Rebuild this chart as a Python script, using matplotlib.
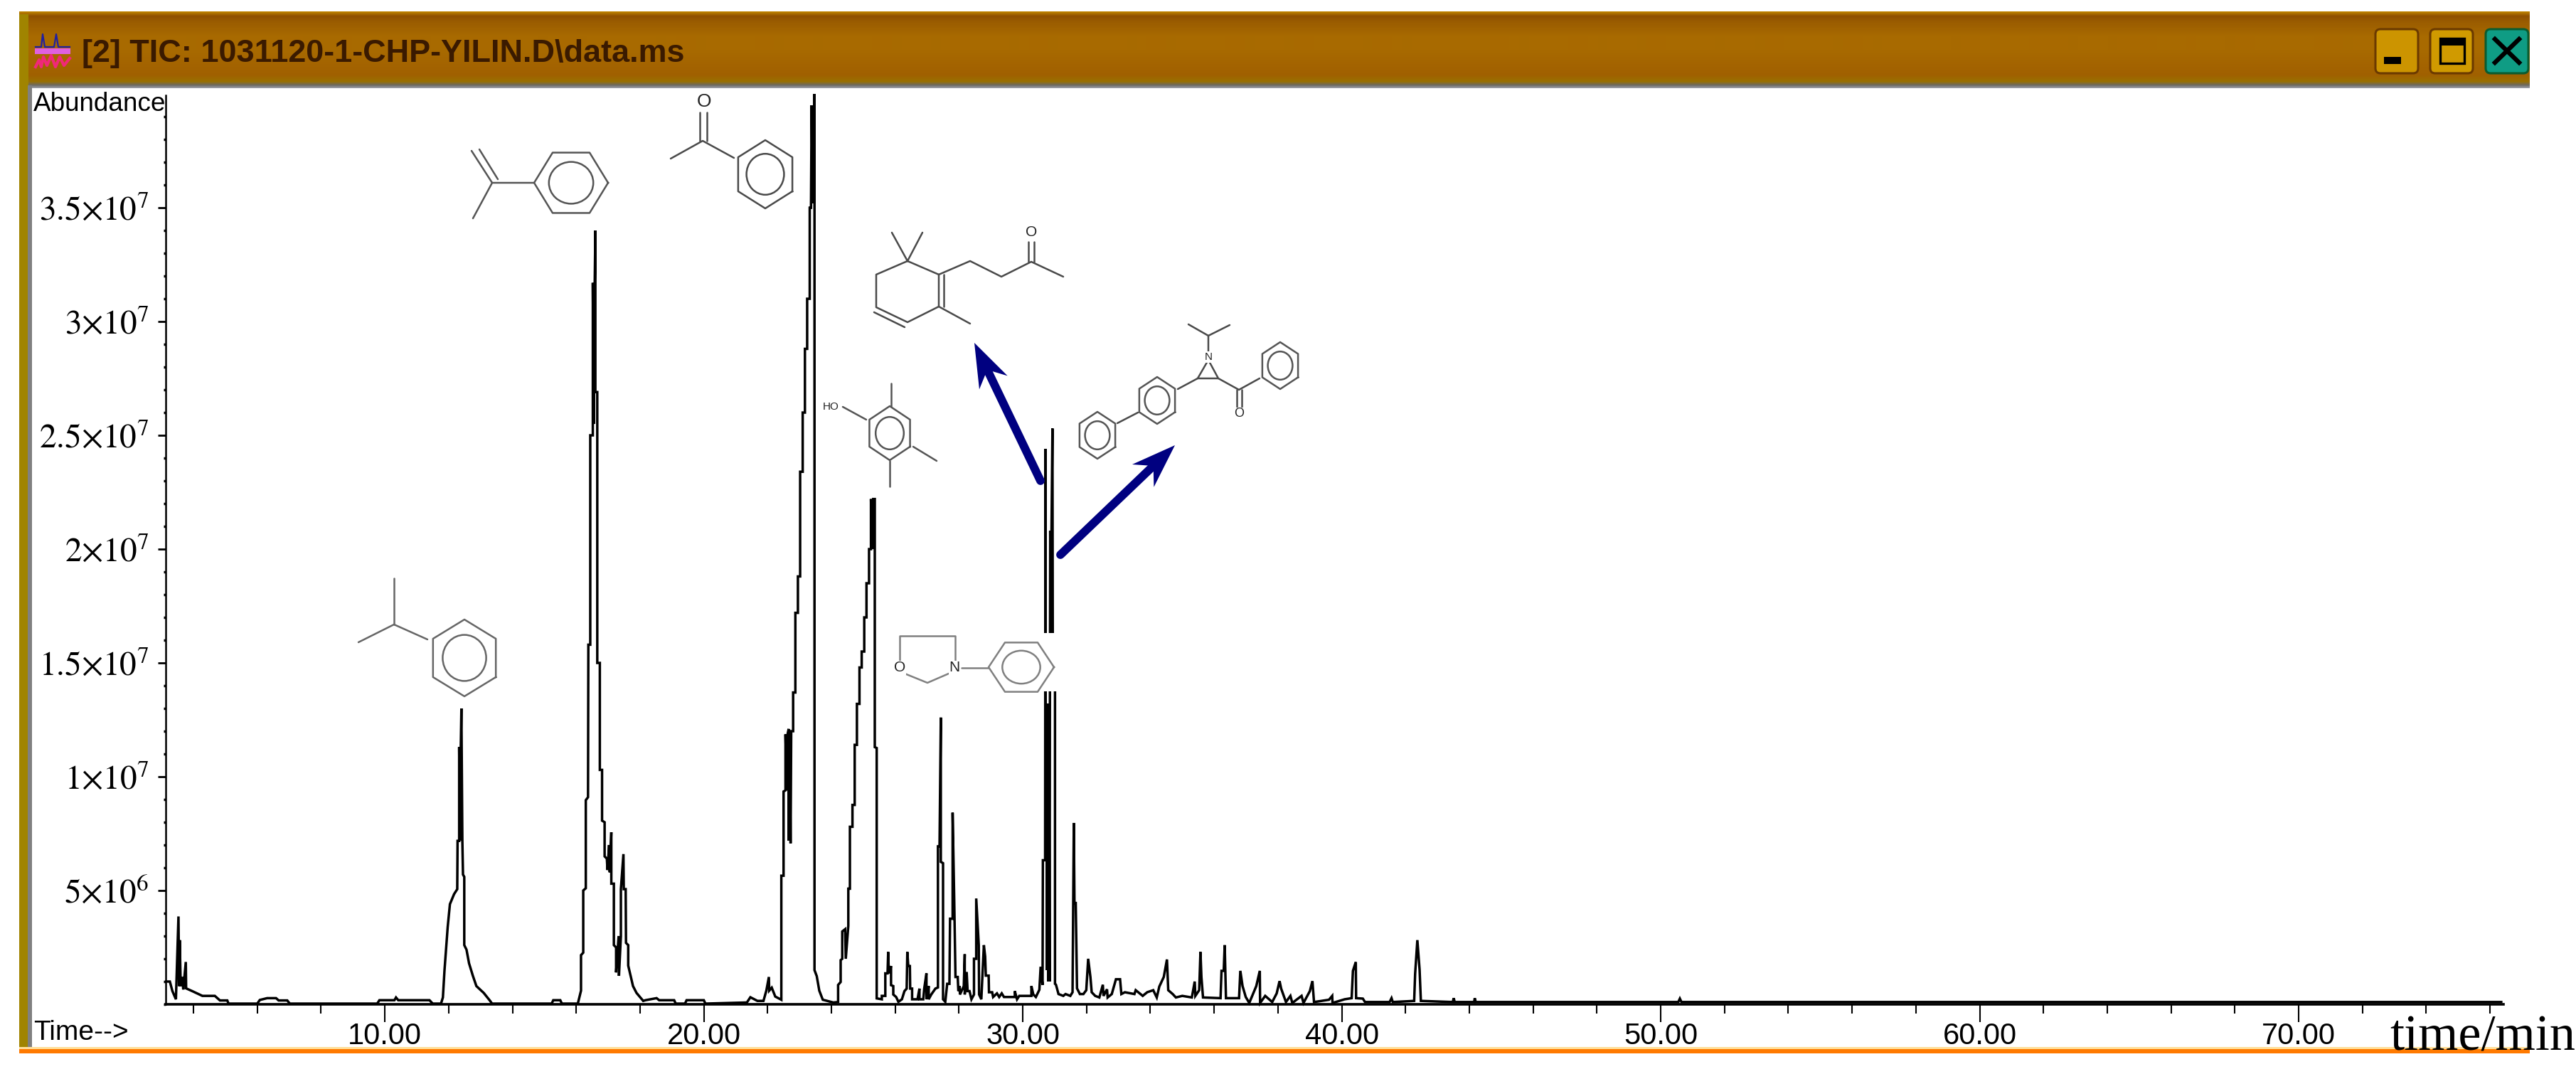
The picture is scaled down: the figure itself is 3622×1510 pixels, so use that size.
import numpy as np
import matplotlib
matplotlib.use('Agg')
import matplotlib.pyplot as plt
from matplotlib.patches import Rectangle, Ellipse, Polygon, FancyBboxPatch
from matplotlib.ticker import MultipleLocator, FixedLocator, NullFormatter

W, H = 3622, 1510

# retention time (min), abundance (in 1e6)
scan_front = [(3.15, 1.0), (3.26, 1.0), (3.34, .58), (3.45, .22), (3.53, 3.86), (3.55, .8), (3.57, 2.82), (3.6, .8),
              (3.65, 1.2), (3.68, .65), (3.76, 1.86), (3.77, .7), (3.96, .58), (4.28, .37), (4.67, .37), (4.83, .17),
              (5.06, .17), (5.1, .03), (6.0, .03), (6.08, .19), (6.31, .27), (6.59, .27), (6.67, .17), (6.94, .17),
              (7.02, .03), (9.76, .03), (9.83, .18), (10.3, .18), (10.35, .3), (10.42, .18), (11.4, .18), (11.5, .03),
              (11.76, .03)]
scan_cumene = [(11.82, .3), (11.87, 1.49), (11.97, 3.39), (12.04, 4.4), (12.17, 4.84), (12.27, 5.06), (12.28, 7.18),
               (12.33, 7.18), (12.33, 11.3), (12.36, 7.2), (12.38, 11.3), (12.40, 13.0), (12.43, 7.2), (12.45, 5.7),
               (12.49, 5.6), (12.49, 2.6), (12.56, 2.4), (12.64, 1.8), (12.76, 1.25), (12.87, .8), (13.1, .5),
               (13.3, .15), (13.36, .03), (15.23, .03), (15.28, .18), (15.5, .18), (15.55, .03), (16.05, .03)]
scan_ams = [(16.15, .6), (16.15, 2.16), (16.22, 2.27), (16.22, 5.0), (16.3, 5.1), (16.3, 8.97), (16.37, 9.1),
            (16.38, 15.8), (16.44, 15.8), (16.44, 25.0), (16.52, 25.0), (16.52, 31.7), (16.55, 25.5), (16.58, 31.7),
            (16.6, 34.0), (16.6, 26.9), (16.66, 26.9), (16.66, 15.0), (16.74, 15.0), (16.74, 10.3), (16.81, 10.3),
            (16.81, 8.07), (16.89, 8.0), (16.89, 6.5), (16.96, 6.4), (16.98, 5.9), (17.03, 7.0), (17.05, 5.8),
            (17.1, 7.56), (17.1, 5.3), (17.18, 5.3), (17.18, 2.6), (17.25, 2.5), (17.25, 1.4), (17.33, 3.0),
            (17.34, 1.25), (17.4, 3.0), (17.4, 5.06), (17.48, 6.6), (17.49, 5.06), (17.55, 5.06), (17.56, 2.7),
            (17.63, 2.6), (17.63, 1.7), (17.78, .8), (17.89, .5), (18.1, .15), (18.17, .18), (18.52, .27), (18.6, .18),
            (19.07, .18), (19.12, .03), (19.41, .03), (19.46, .18), (20.0, .18), (20.05, .03), (21.35, .08)]
scan_acp = [(21.46, .31), (21.68, .15), (21.87, .15), (21.96, .6), (22.04, 1.2), (22.05, .6), (22.13, .73), (22.24, .34),
            (22.43, .2), (22.43, 5.65), (22.5, 5.65), (22.5, 9.35), (22.56, 9.4), (22.56, 11.86), (22.6, 9.4),
            (22.63, 11.9), (22.66, 12.1), (22.66, 7.2), (22.69, 12.0), (22.72, 7.07), (22.74, 12.0), (22.8, 12.0),
            (22.8, 13.7), (22.87, 13.7), (22.87, 17.2), (22.95, 17.2), (22.95, 18.8), (23.02, 18.8), (23.02, 23.4),
            (23.1, 23.4), (23.1, 26.0), (23.17, 26.0), (23.17, 28.8), (23.24, 28.8), (23.24, 31.0), (23.32, 31.0),
            (23.32, 35.0), (23.36, 35.0), (23.38, 39.5), (23.41, 35.2), (23.43, 39.5), (23.45, 35.2), (23.47, 40.0),
            (23.47, 1.5), (23.54, 1.24), (23.62, .6), (23.73, .2), (24.06, .08)]
scan_phenol = [(24.21, .1), (24.21, .85), (24.29, .98), (24.29, 1.94), (24.34, 2.0), (24.34, 3.2), (24.43, 3.3),
               (24.45, 2.0), (24.53, 3.45), (24.53, 5.08), (24.58, 5.08), (24.58, 7.8), (24.66, 7.8), (24.66, 8.76),
               (24.73, 8.76), (24.73, 11.4), (24.8, 11.4), (24.8, 13.2), (24.88, 13.2), (24.88, 14.8), (24.95, 14.8),
               (24.95, 15.5), (25.03, 15.5), (25.03, 17.0), (25.1, 17.0), (25.1, 18.5), (25.18, 18.5), (25.18, 20.0),
               (25.24, 20.0), (25.24, 22.2), (25.28, 20.0), (25.31, 22.2), (25.36, 22.2), (25.36, 11.3), (25.42, 11.26),
               (25.42, .26)]
scan_mid = [(25.58, .22), (25.58, .37), (25.69, .37), (25.69, 1.36), (25.76, 1.36), (25.78, 2.3), (25.8, 1.36),
            (25.87, 1.68), (25.87, .84), (25.94, .8), (25.94, .43), (26.03, .32), (26.1, .11), (26.21, .22), (26.29, .58),
            (26.36, .69), (26.38, 2.3), (26.41, 1.68), (26.46, 1.68), (26.47, .69), (26.53, .69), (26.53, .22), (26.7, .22),
            (26.76, .69), (26.76, .22), (26.88, .22), (26.91, .69), (26.98, 1.36), (26.98, .22), (27.05, .8), (27.05, .22),
            (27.13, .43), (27.26, .69), (27.34, .74), (27.34, 6.94), (27.39, 6.94), (27.43, 12.6), (27.43, 6.26),
            (27.5, 6.2), (27.5, .22), (27.57, .11), (27.63, .9), (27.7, .9), (27.72, 3.76), (27.8, 3.76), (27.8, 8.42),
            (27.85, 4.6), (27.89, 1.2), (27.96, 1.2), (27.98, .58), (28.02, .8), (28.03, .43), (28.15, .8), (28.18, 2.2),
            (28.18, .43), (28.24, 1.42), (28.27, .58), (28.33, .58), (28.39, .22), (28.47, .43), (28.47, 2.0), (28.54, 2.0),
            (28.54, 4.65), (28.62, 2.6), (28.63, .43), (28.7, .22), (28.78, 2.6), (28.82, 2.1), (28.84, 1.26), (28.93, 1.26),
            (28.94, .53), (29.04, .53), (29.07, .32), (29.19, .48), (29.26, .32), (29.34, .48), (29.41, .32), (29.75, .32),
            (29.75, .58), (29.82, .22), (29.89, .37), (30.27, .37), (30.27, .8), (30.33, .43), (30.41, .32), (30.52, .64)]
scan_twin = [(30.56, 1.65), (30.62, .85), (30.63, 6.33), (30.70, 6.33), (30.71, 24.4), (30.72, 6.3), (30.74, 13.2),
             (30.76, 1.5), (30.78, 13.2), (30.80, 1.0), (30.82, 13.2), (30.84, 1.0), (30.85, 13.0), (30.86, 20.8),
             (30.88, 16.0), (30.90, 20.8), (30.93, 25.3), (30.94, 16.0), (31.0, 15.0), (31.01, 13.8), (31.01, .9)]
scan_tail = [(31.04, .86), (31.12, .45), (31.27, .37), (31.34, .45), (31.49, .37), (31.56, .53), (31.6, 7.97),
             (31.62, 4.45), (31.66, 4.45), (31.7, .7), (31.79, .45), (31.9, .45), (31.99, .62), (32.05, 2.0), (32.12, 1.2),
             (32.16, .53), (32.27, .37), (32.4, .3), (32.51, .86), (32.53, .37), (32.64, .66), (32.66, .3), (32.79, .45),
             (32.92, 1.1), (33.05, 1.1), (33.09, .45), (33.2, .53), (33.5, .45), (33.54, .62), (33.76, .37), (33.9, .53),
             (34.09, .62), (34.2, .3), (34.28, .78), (34.42, 1.2), (34.52, 1.97), (34.56, .62), (34.7, .45), (34.8, .3),
             (35.0, .37), (35.3, .3), (35.39, 1.0), (35.41, .37), (35.53, .62), (35.57, 2.3), (35.6, 1.2), (35.65, .3),
             (36.2, .27), (36.23, 1.47), (36.3, 1.47), (36.33, 2.6), (36.37, .27), (36.78, .27), (36.82, 1.47), (36.89, .8),
             (36.99, .32), (37.1, .06), (37.32, .8), (37.43, 1.47), (37.44, .06), (37.6, .37), (37.82, .1), (37.96, .48),
             (38.05, 1.02), (38.1, .69), (38.25, .1), (38.39, .37), (38.45, .06), (38.74, .37), (38.8, .06), (39.0, .58),
             (39.08, 1.02), (39.13, .1), (39.6, .2), (39.7, .37), (39.71, .06), (40.09, .22), (40.31, .27), (40.35, 1.47),
             (40.44, 1.86), (40.45, .27), (40.66, .25), (40.73, .1), (41.5, .1), (41.56, .27), (41.6, .1), (42.27, .15),
             (42.3, 1.33), (42.37, 2.82), (42.44, 1.52), (42.48, .15), (43.48, .1), (43.51, .27), (43.54, .1), (44.15, .1),
             (44.17, .27), (44.2, .1), (50.55, .1), (50.6, .25), (50.65, .1), (76.35, .1)]

x_major = [10, 20, 30, 40, 50, 60, 70]
x_labels = ['10.00', '20.00', '30.00', '40.00', '50.00', '60.00', '70.00']
y_major = [5e6, 1e7, 1.5e7, 2e7, 2.5e7, 3e7, 3.5e7]
y_labels = [r'$5{\times}10^{6}$', r'$1{\times}10^{7}$', r'$1.5{\times}10^{7}$', r'$2{\times}10^{7}$',
            r'$2.5{\times}10^{7}$', r'$3{\times}10^{7}$', r'$3.5{\times}10^{7}$']

NARROW = ['Liberation Sans Narrow', 'Liberation Sans']
plt.rcParams['mathtext.fontset'] = 'stix'
plt.rcParams['font.family'] = ['Liberation Sans', 'DejaVu Sans']

fig = plt.figure(figsize=(W / 100, H / 100), dpi=100, facecolor='white')


def pixel_axes(z):
    a = fig.add_axes([0, 0, 1, 1], zorder=z)
    a.set_xlim(0, W)
    a.set_ylim(H, 0)
    a.axis('off')
    a.patch.set_alpha(0)
    return a


bg = pixel_axes(0)
fg = pixel_axes(2)

# window frame
bar_cols = ['#c08400', '#8f5000', '#9a5c00', '#a86a00', '#a86a00', '#a46400', '#a06000', '#9a7000', '#6e6a60', '#a4a8b4']
bar_pos = np.array([16, 22, 30, 50, 70, 90, 105, 114, 119, 124])
rows = np.arange(16, 124)
rgb = np.array([matplotlib.colors.to_rgb(c) for c in bar_cols])
grad = np.stack([np.interp(rows, bar_pos, rgb[:, i]) for i in range(3)], axis=1)[:, None, :]
bg.imshow(grad, extent=(27, 3557, 124, 16), aspect='auto', interpolation='bilinear')
bg.set_xlim(0, W)
bg.set_ylim(H, 0)
bg.add_patch(Rectangle((27, 20), 13, 1461, fc='#a08400', ec='none'))
bg.add_patch(Rectangle((39, 120), 6, 1355, fc='#808080', ec='none'))
bg.add_patch(Rectangle((27, 1472), 3530, 3, fc='#ffdf9a', ec='none'))
bg.add_patch(Rectangle((27, 1475), 3530, 6, fc='#ff7a00', ec='none'))

# title bar buttons
for x0, col, edge in [(3336, '#cc9400', '#6b3a00'), (3413, '#d09a00', '#6b3a00'), (3491, '#0f9c84', '#0b5c30')]:
    bg.add_patch(FancyBboxPatch((x0 + 4, 41), 60, 62, boxstyle='round,pad=0,rounding_size=7', fc=col, ec=edge, lw=2.2))
bg.add_patch(Rectangle((3352, 80), 24, 10, fc='black', ec='none'))
bg.add_patch(Rectangle((3431, 54), 34, 35, fc='none', ec='black', lw=2.4))
bg.add_patch(Rectangle((3430, 53), 36, 11, fc='black', ec='none'))
bg.plot([3508, 3542], [55, 88], color='black', lw=4.5)
bg.plot([3508, 3542], [88, 55], color='black', lw=4.5)

# title icon
bg.plot([50, 58, 60, 63, 66, 72, 76, 79, 82, 98], [66, 66, 48, 66, 66, 66, 66, 48, 66, 66], color='#2020a0', lw=1.6)
bg.add_patch(Rectangle((49, 68), 50, 8, fc='#e060e0', ec='none'))
bg.plot([50, 55, 58, 61, 66, 72, 78, 84, 90, 98], [94, 84, 94, 80, 92, 78, 94, 80, 92, 82], color='#f02878', lw=3)

bg.text(115, 75, '[2] TIC: 1031120-1-CHP-YILIN.D\\data.ms', fontsize=32.4, fontweight='bold', color='#3a1a00',
        family=['Liberation Sans'], ha='left', va='center')

# chromatogram
trace = scan_front + scan_cumene + scan_ams + scan_acp + scan_phenol + scan_mid + scan_twin + scan_tail
rt = np.array([p[0] for p in trace])
abundance = np.array([p[1] for p in trace]) * 1e6

ax = fig.add_axes([233 / W, (H - 1412) / H, (3520 - 233) / W, (1412 - 134) / H], zorder=1)
ax.patch.set_alpha(0)
ax.plot(rt, abundance, color='black', lw=2.5, solid_joinstyle='miter', clip_on=False)
ax.set_xlim(3.13, 76.42)
ax.set_ylim(0, 39.94e6)
for s in ['top', 'right']:
    ax.spines[s].set_visible(False)
ax.spines['left'].set_linewidth(1.8)
ax.spines['bottom'].set_linewidth(2.6)

ax.xaxis.set_major_locator(FixedLocator(x_major))
ax.xaxis.set_minor_locator(MultipleLocator(2))
ax.xaxis.set_minor_formatter(NullFormatter())
ax.set_xticklabels(x_labels, family=NARROW, fontsize=30)
ax.tick_params(axis='x', which='major', length=18, width=1.5, pad=0)
ax.tick_params(axis='x', which='minor', length=9, width=1.5)

ax.yaxis.set_major_locator(FixedLocator(y_major))
ax.yaxis.set_minor_locator(MultipleLocator(1e6))
ax.yaxis.set_minor_formatter(NullFormatter())
ax.set_yticklabels(y_labels, fontsize=34)
ax.tick_params(axis='y', which='major', length=8, width=2, pad=9)
ax.tick_params(axis='y', which='minor', length=2.5, width=2.5)

fg.text(47, 146, 'Abundance', fontsize=26.6, color='black', ha='left', va='center')
fg.text(47, 1452, 'Time-->', fontsize=28, family=NARROW, color='black', ha='left', va='center')
fg.text(3360, 1477, 'time/min', fontsize=52, family=['Liberation Serif'], color='black', ha='left', va='baseline')


# structures, pixel positions on the picture
def lines(segs, col='#4a4a4a', lw=1.8):
    for s in segs:
        fg.plot([p[0] for p in s], [p[1] for p in s], color=col, lw=lw, solid_capstyle='round')


def ring(cx, cy, rx, ry, flat, col='#4a4a4a', inner=0.6):
    ang = np.radians(np.arange(0, 361, 60) + (0 if flat else 30))
    fg.plot(cx + rx * np.cos(ang), cy + ry * np.sin(ang), color=col, lw=1.8)
    fg.add_patch(Ellipse((cx, cy), 2 * rx * inner, 2 * ry * inner, fc='none', ec=col, lw=1.8))


def atom(x, y, s, size=15):
    fg.text(x, y, s, fontsize=size, color='#222222', ha='center', va='center',
            bbox=dict(fc='white', ec='none', pad=0.5))


def arrow(tail, tip):
    tail, tip = np.array(tail, float), np.array(tip, float)
    d = (tip - tail) / np.hypot(*(tip - tail))
    n = np.array([-d[1], d[0]])
    fg.plot([tail[0], (tip - 30 * d)[0]], [tail[1], (tip - 30 * d)[1]], color='#000080', lw=8.5, solid_capstyle='round')
    fg.add_patch(Polygon([tip, tip - 62 * d + 22 * n, tip - 42 * d, tip - 62 * d - 22 * n], fc='#000080', ec='none'))


fg.add_patch(Rectangle((1255, 890), 231, 82, fc='white', ec='none'))

# isopropylbenzene
ring(653, 925, 51, 54, False, '#666666')
lines([[(601, 899), (554, 878), (504, 903)], [(554, 878), (554, 813)]], '#666666')
# alpha-methylstyrene
ring(803, 257, 52, 49, True, '#555555')
lines([[(751, 257), (692, 257), (665, 307)], [(692, 257), (663, 212)], [(700, 252), (674, 210)]], '#555555')
# acetophenone
ring(1076, 245, 44, 48, False)
lines([[(1032, 222), (988, 198), (943, 223)], [(984, 198), (984, 158)], [(994, 198), (994, 158)]])
atom(990, 143, 'O', 19)
# ketone
lines([[(1276, 367), (1320, 386), (1320, 431), (1276, 453), (1232, 432), (1232, 386), (1276, 367)],
       [(1276, 367), (1254, 327)], [(1276, 367), (1297, 327)],
       [(1327, 386), (1327, 431)], [(1229, 439), (1272, 460)],
       [(1320, 431), (1364, 455)],
       [(1320, 386), (1364, 367), (1408, 389), (1450, 368), (1495, 389)],
       [(1446, 368), (1446, 340)], [(1454, 368), (1454, 340)]])
atom(1450, 327, 'O', 15)
# trimethylphenol
ring(1251, 609, 33, 38, False, '#555555')
lines([[(1185, 572), (1218, 590)], [(1253, 539), (1253, 571)], [(1251, 648), (1251, 684)], [(1284, 628), (1317, 648)]],
      '#555555')
atom(1168, 572, 'HO', 11)
# oxazolidine
lines([[(1265, 930), (1265, 894), (1343, 894), (1343, 928)], [(1272, 947), (1304, 960), (1334, 947)], [(1352, 939), (1390, 939)]],
      '#808080')
ring(1436, 938, 46, 40, True, '#808080', 0.58)
atom(1265, 939, 'O', 15)
atom(1342, 939, 'N', 15)
# aziridine
ring(1543, 612, 29, 33, False, '#555555')
ring(1627, 563, 29, 33, False, '#555555')
ring(1800, 514, 29, 33, False, '#555555')
lines([[(1571, 595), (1600, 580)], [(1656, 547), (1684, 532), (1713, 532), (1699, 506), (1684, 532)],
       [(1699, 495), (1699, 472), (1671, 456)], [(1699, 472), (1729, 457)],
       [(1713, 532), (1742, 548), (1771, 532)], [(1739, 548), (1739, 572)], [(1746, 548), (1746, 572)]])
atom(1699, 502, 'N', 11)
atom(1742, 582, 'O', 13)

arrow((1463, 676), (1370, 482))
arrow((1491, 780), (1652, 626))

fig.savefig('out.png', dpi=100)
